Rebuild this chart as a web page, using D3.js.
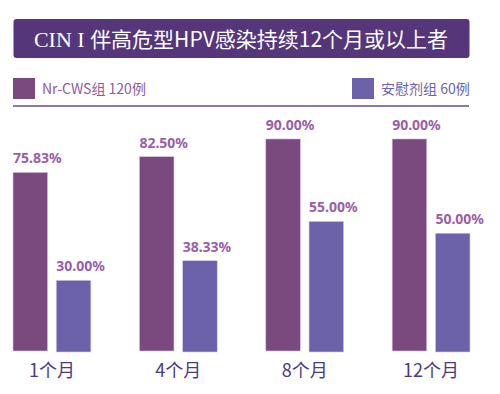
<!DOCTYPE html>
<html>
<head>
<meta charset="utf-8">
<script src="https://cdn.jsdelivr.net/npm/d3@7"></script>
<style>
  body { margin: 0; background: #fff; }
  svg { display: block; font-family: "Noto Sans CJK SC", "Noto Sans", sans-serif; }
</style>
</head>
<body>
<div id="chart"></div>
<script>
var svgWidth = 500;
var svgHeight = 394;

var months = ["1个月", "4个月", "8个月", "12个月"];
var groups = ["Nr-CWS组 120例", "安慰剂组 60例"];
var nrCws = [75.83, 82.50, 90.00, 90.00];
var placebo = [30.00, 38.33, 55.00, 50.00];
var colors = ["#7a4a7e", "#6c62aa"];
var legendTextColors = ["#9459a0", "#6a62ad"];

var svg = d3.select("#chart")
  .append("svg")
  .attr("width", svgWidth)
  .attr("height", svgHeight);

// title box
svg.append("rect")
  .attr("x", 13.5)
  .attr("y", 19)
  .attr("width", 456)
  .attr("height", 39)
  .attr("rx", 3)
  .attr("fill", "#55367b");

var title = svg.append("text")
  .attr("x", 241)
  .attr("y", 46.5)
  .attr("text-anchor", "middle")
  .attr("fill", "#fff")
  .style("font-size", "21px");
title.append("tspan")
  .style("font-family", "'Liberation Serif', 'DejaVu Serif', serif")
  .style("font-size", "22px")
  .text("CIN I ");
title.append("tspan")
  .text("伴高危型HPV感染持续12个月或以上者");

// legend
var legend = svg.selectAll(".legend")
  .data(groups)
  .enter()
  .append("g")
  .attr("class", "legend")
  .attr("transform", (d, i) => `translate(${i === 0 ? 13 : 352}, 78)`);

legend.append("rect")
  .attr("width", 22)
  .attr("height", 21)
  .attr("fill", (d, i) => colors[i]);

legend.append("text")
  .attr("x", 29)
  .attr("y", 16)
  .attr("fill", (d, i) => legendTextColors[i])
  .style("font-size", "14px")
  .text(d => d);

svg.append("line")
  .attr("x1", 13)
  .attr("x2", 469)
  .attr("y1", 106)
  .attr("y2", 106)
  .attr("stroke", "#6a4c8c")
  .attr("stroke-width", 1.5);

// scales
var xScale = d3.scaleBand()
  .domain(months)
  .range([13, 470])
  .paddingInner(0.384)
  .paddingOuter(0);

var xSub = d3.scaleBand()
  .domain([0, 1])
  .range([0, xScale.bandwidth()])
  .paddingInner(0.2);

var yScale = d3.scaleLinear()
  .domain([0, 100])
  .range([351, 115.4]);

var rows = months.map((m, i) => ({ month: m, values: [nrCws[i], placebo[i]] }));

var groupG = svg.selectAll(".month")
  .data(rows)
  .enter()
  .append("g")
  .attr("class", "month")
  .attr("transform", d => `translate(${xScale(d.month)}, 0)`);

groupG.selectAll("rect")
  .data(d => d.values)
  .enter()
  .append("rect")
  .attr("x", (d, i) => xSub(i))
  .attr("y", d => yScale(d))
  .attr("width", xSub.bandwidth())
  .attr("height", (d, i) => yScale(0) - yScale(d) + i)
  .attr("fill", (d, i) => colors[i])
  .attr("stroke", "#d9c8e6")
  .attr("stroke-width", 0.6);

groupG.selectAll(".val")
  .data(d => d.values)
  .enter()
  .append("text")
  .attr("class", "val")
  .attr("x", (d, i) => xSub(i))
  .attr("y", d => yScale(d) - 9)
  .attr("fill", "#9a5ea8")
  .style("font-family", "'Noto Sans', sans-serif")
  .style("font-weight", "bold")
  .style("font-size", "14px")
  .text(d => d.toFixed(2) + "%");

// category labels
svg.selectAll(".cat")
  .data(months)
  .enter()
  .append("text")
  .attr("class", "cat")
  .attr("x", d => xScale(d) + xScale.bandwidth() / 2)
  .attr("y", 377)
  .attr("text-anchor", "middle")
  .attr("fill", "#4b3a84")
  .style("font-size", "18px")
  .text(d => d);
</script>
</body>
</html>
